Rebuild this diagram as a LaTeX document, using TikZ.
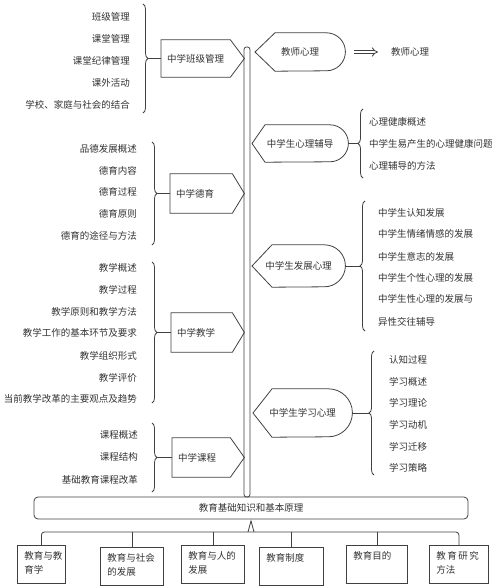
\documentclass[tikz,border=0pt]{standalone}
\usepackage{fontspec}
\newfontfamily\cjk{Noto Sans CJK SC}
\usetikzlibrary{decorations.pathreplacing,arrows.meta}

\tikzset{
  line/.style={draw=black!75, line width=0.8pt},
  item/.style={font=\cjk\fontsize{9.5pt}{14pt}\selectfont, text=black!80, inner sep=1pt},
  lbox/.style={item, anchor=west, inner xsep=6pt, inner ysep=0pt, align=left},
  rbox/.style={item, anchor=west, inner sep=0pt},
  ebox/.style={item, draw=black!75, line width=0.8pt, anchor=north west, align=left,
    inner xsep=7pt, inner ysep=5pt, text height=9pt, text depth=19pt},
  bracebar/.style={line, decorate, decoration={brace, amplitude=5pt}},
  twoline/.style={line, double, double distance=2.4pt, -{Implies}}
}

\begin{document}
\begin{tikzpicture}[x=1pt, y=-1pt]
\useasboundingbox (0,0) rectangle (500,586);

% Trunk
\draw[line, rounded corners=2.5pt] (244,47) rectangle (250,497);

% Class management
\node[item, anchor=east] (b1) at (131,17) {班级管理};
\node[item, anchor=east] (b2) at (131,39) {课堂管理};
\node[item, anchor=east] (b3) at (131,61) {课堂纪律管理};
\node[item, anchor=east] (b4) at (131,83) {课外活动};
\node[item, anchor=east] (b5) at (131,105) {学校、家庭与社会的结合};
\draw[bracebar] (143,4) -- (143,113);
\coordinate (bjt) at (148,58.5);
\node[lbox, text width=57pt, minimum height=37pt] (bj) at (161,58.5) {中学班级管理};
\draw[line] (bj.north west) -- (bj.north east) -- ([xshift=14pt]bj.east) -- (bj.south east) -- (bj.south west) -- cycle;
\draw[line] (bjt) -- (bj.west);

% Moral education
\node[item, anchor=east] (d1) at (138,149) {品德发展概述};
\node[item, anchor=east] (d2) at (138,171) {德育内容};
\node[item, anchor=east] (d3) at (138,192) {德育过程};
\node[item, anchor=east] (d4) at (138,214) {德育原则};
\node[item, anchor=east] (d5) at (138,236) {德育的途径与方法};
\draw[bracebar] (152,142) -- (152,245);
\coordinate (dyt) at (157,193.5);
\node[lbox, text width=50pt, minimum height=39pt] (dy) at (170,193.5) {中学德育};
\draw[line] (dy.north west) -- (dy.north east) -- ([xshift=12pt]dy.east) -- (dy.south east) -- (dy.south west) -- cycle;
\draw[line] (dyt) -- (dy.west);

% Teaching
\node[item, anchor=east] (j1) at (138,268) {教学概述};
\node[item, anchor=east] (j2) at (138,290) {教学过程};
\node[item, anchor=east] (j3) at (138,312) {教学原则和教学方法};
\node[item, anchor=east] (j4) at (138,333) {教学工作的基本环节及要求};
\node[item, anchor=east] (j5) at (138,356) {教学组织形式};
\node[item, anchor=east] (j6) at (138,378) {教学评价};
\node[item, anchor=east] (j7) at (138,399) {当前教学改革的主要观点及趋势};
\draw[bracebar] (152,262) -- (152,403);
\coordinate (jxt) at (157,332.5);
\node[lbox, text width=49pt, minimum height=39pt] (jx) at (171,332.5) {中学教学};
\draw[line] (jx.north west) -- (jx.north east) -- ([xshift=12pt]jx.east) -- (jx.south east) -- (jx.south west) -- cycle;
\draw[line] (jxt) -- (jx.west);

% Curriculum
\node[item, anchor=east] (k1) at (139,435) {课程概述};
\node[item, anchor=east] (k2) at (139,457) {课程结构};
\node[item, anchor=east] (k3) at (139,480) {基础教育课程改革};
\draw[bracebar] (152,423) -- (152,492);
\coordinate (kct) at (157,457.5);
\node[lbox, text width=46pt, minimum height=39pt] (kc) at (172,457.5) {中学课程};
\draw[line] (kc.north west) -- (kc.north east) -- ([xshift=14pt]kc.east) -- (kc.south east) -- (kc.south west) -- cycle;
\draw[line] (kct) -- (kc.west);

% Teacher psychology
\node[rbox, minimum width=90pt, minimum height=38pt] (js) at (255,52) {教师心理};
\draw[line] (js.west) -- ([xshift=20pt]js.north west) -- ([xshift=-19pt]js.north east) arc (90:-90:19pt) -- ([xshift=20pt]js.south west) -- cycle;
\node[item, anchor=west] (js2) at (390,52) {教师心理};
\draw[twoline, shorten <=9pt, shorten >=12pt] (js.east) -- (js2.west);

% Guidance
\node[rbox, minimum width=96pt, minimum height=37pt] (fd) at (252,143.5) {中学生心理辅导};
\draw[line] (fd.west) -- ([xshift=13pt]fd.north west) -- ([xshift=-18.5pt]fd.north east) arc (90:-90:18.5pt) -- ([xshift=13pt]fd.south west) -- cycle;
\draw[bracebar] (363,178) -- (363,109);
\coordinate (fdt) at (358,143.5);
\draw[line] (fd.east) -- (fdt);
\node[item, anchor=west] (f1) at (368,122) {心理健康概述};
\node[item, anchor=west] (f2) at (368,144) {中学生易产生的心理健康问题};
\node[item, anchor=west] (f3) at (368,166) {心理辅导的方法};

% Development
\node[rbox, minimum width=93pt, minimum height=42pt] (fz) at (252,266) {中学生发展心理};
\draw[line] (fz.west) -- ([xshift=20pt]fz.north west) -- ([xshift=-21pt]fz.north east) arc (90:-90:21pt) -- ([xshift=20pt]fz.south west) -- cycle;
\draw[bracebar] (365,331) -- (365,201);
\coordinate (fzt) at (360,266);
\draw[line] (fz.east) -- (fzt);
\node[item, anchor=west] (z1) at (377,213) {中学生认知发展};
\node[item, anchor=west] (z2) at (377,234) {中学生情绪情感的发展};
\node[item, anchor=west] (z3) at (377,257) {中学生意志的发展};
\node[item, anchor=west] (z4) at (377,278) {中学生个性心理的发展};
\node[item, anchor=west] (z5) at (377,299) {中学生性心理的发展与};
\node[item, anchor=west] (z6) at (377,322) {异性交往辅导};

% Learning
\node[rbox, minimum width=99pt, minimum height=48pt] (xx) at (253,413) {中学生学习心理};
\draw[line] (xx.west) -- ([xshift=19pt]xx.north west) -- ([xshift=-24pt]xx.north east) arc (90:-90:24pt) -- ([xshift=19pt]xx.south west) -- cycle;
\draw[bracebar] (374,475) -- (374,351);
\coordinate (xxt) at (369,413);
\draw[line] (xx.east) -- (xxt);
\node[item, anchor=west] (x1) at (388,360) {认知过程};
\node[item, anchor=west] (x2) at (388,382) {学习概述};
\node[item, anchor=west] (x3) at (388,403) {学习理论};
\node[item, anchor=west] (x4) at (388,425) {学习动机};
\node[item, anchor=west] (x5) at (388,447) {学习迁移};
\node[item, anchor=west] (x6) at (388,468) {学习策略};

% Basic principles
\node[item, draw=black!75, line width=0.8pt, rounded corners=4pt, minimum width=434pt, minimum height=22pt] (jc) at (251,508) {教育基础知识和基本原理};

% Bottom boxes
\node[ebox, text width=34pt] (e1) at (17,545) {教育与教\\育学};
\node[ebox, text width=49pt] (e2) at (100,547) {教育与社会\\的发展};
\node[ebox, text width=49pt] (e3) at (181,545) {教育与人的\\发展};
\node[ebox, text width=50pt] (e4) at (259,547) {教育制度};
\node[ebox, text width=47pt] (e5) at (346,545) {教育目的};
\node[ebox, text width=45pt] (e6) at (429,545) {教\hspace{1.5pt}育\hspace{1.5pt}研\hspace{1.5pt}究\\方法};

% Bracket
\coordinate (bl) at (0,532);
\draw[line, rounded corners=3pt] (e1.north) |- (jc.south |- bl) -| (e6.north);
\draw[line] ([xshift=-3pt]jc.south |- bl) -- ([yshift=-1.5pt]jc.south) -- ([xshift=3pt]jc.south |- bl);
\draw[line] (e2.north |- bl) -- (e2.north);
\draw[line] (e3.north |- bl) -- (e3.north);
\draw[line] (e4.north |- bl) -- (e4.north);
\draw[line] (e5.north |- bl) -- (e5.north);
\end{tikzpicture}
\end{document}
